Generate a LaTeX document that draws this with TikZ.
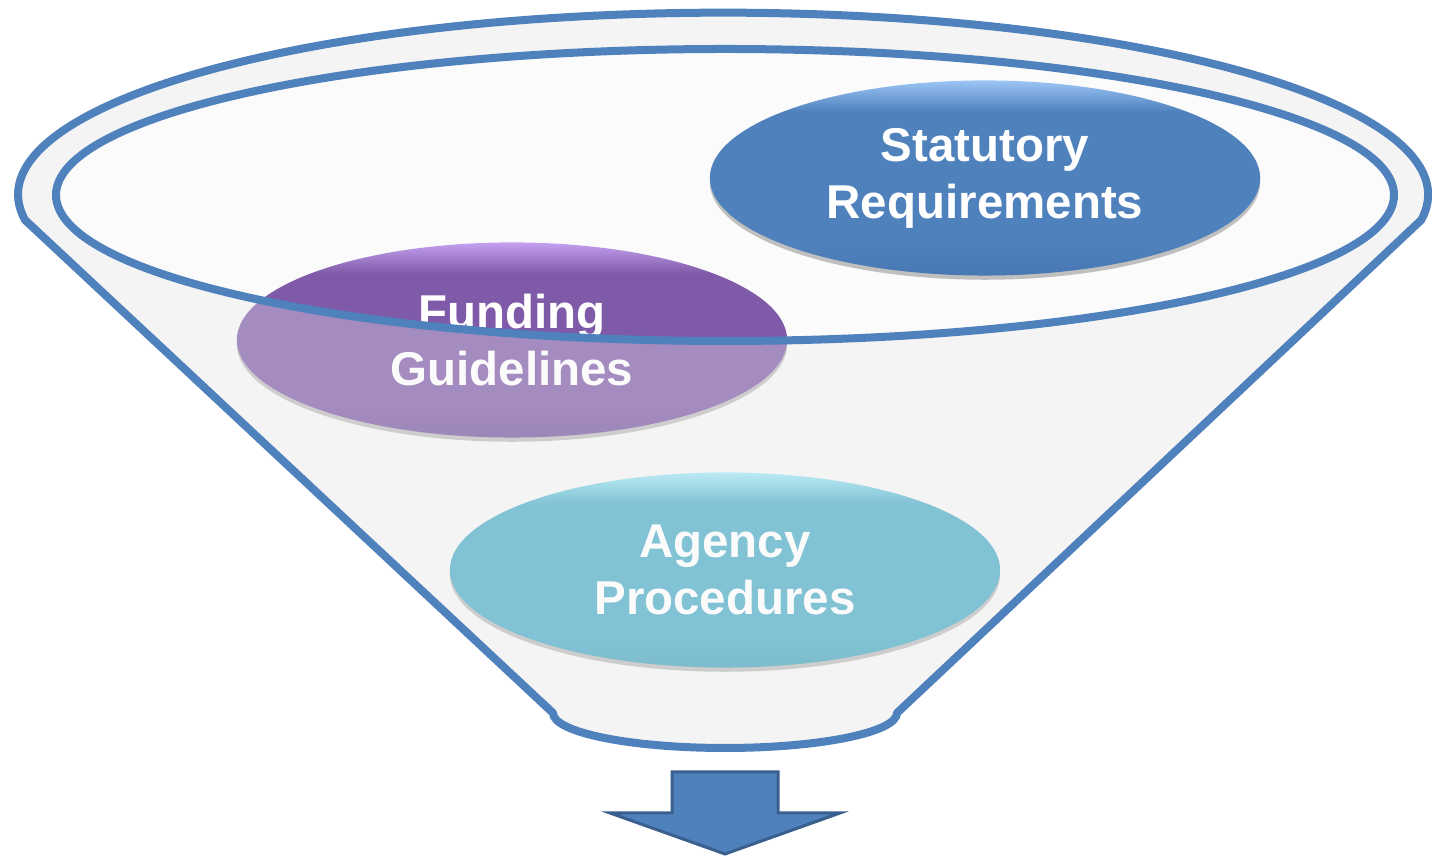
\documentclass[tikz,border=0pt]{standalone}
\usepackage{fontspec}
\setmainfont{Liberation Sans}
\usetikzlibrary{shapes.geometric,shadows}
\definecolor{rimblue}{HTML}{4F81BD}
\definecolor{arrowedge}{HTML}{3A5F8E}
\definecolor{bodygray}{HTML}{F4F4F4}
\definecolor{statbase}{HTML}{4F81BD}
\definecolor{stattop}{HTML}{9CC5F5}
\definecolor{statlow}{HTML}{4878B3}
\definecolor{fundbase}{HTML}{7F5AA8}
\definecolor{fundtop}{HTML}{C4A0F0}
\definecolor{fundlow}{HTML}{74539C}
\definecolor{agbase}{HTML}{4BACC6}
\definecolor{agtop}{HTML}{A0E6F5}
\definecolor{aglow}{HTML}{46A2BA}
\pgfdeclareverticalshading{statshade}{100bp}{color(0bp)=(statlow); color(25bp)=(statlow); color(33bp)=(statbase);
  color(67bp)=(statbase); color(75bp)=(stattop); color(100bp)=(stattop)}
\pgfdeclareverticalshading{fundshade}{100bp}{color(0bp)=(fundlow); color(25bp)=(fundlow); color(33bp)=(fundbase);
  color(67bp)=(fundbase); color(75bp)=(fundtop); color(100bp)=(fundtop)}
\pgfdeclareverticalshading{agshade}{100bp}{color(0bp)=(aglow); color(25bp)=(aglow); color(33bp)=(agbase);
  color(67bp)=(agbase); color(75bp)=(agtop); color(100bp)=(agtop)}
\begin{document}
\begin{tikzpicture}[x=0.01cm,y=0.01cm,
  oval_node/.style={ellipse,minimum width=5.5cm,minimum height=1.95cm,inner sep=0pt,align=center,text=white,
    font=\fontsize{13.5}{16.2}\selectfont\bfseries,
    drop shadow={shadow xshift=0pt,shadow yshift=-1.2pt,opacity=.4,fill=black!60}},
  rim/.style={draw=rimblue,line width=0.08cm}]

  \useasboundingbox (0,0) rectangle (1432,858);
  \fill[white] (0,0) rectangle (1432,858);

  \fill[bodygray] (25,638) arc[start angle=188,end angle=-8,x radius=705,y radius=182] -- (897,145)
    arc[start angle=0,end angle=-180,x radius=172,y radius=35] -- cycle;
  \fill[white!60!bodygray] (725,663) ellipse[x radius=669,y radius=146];

  \node[oval_node,shading=statshade] (statutory) at (985,680) {Statutory\\Requirements};
  \node[oval_node,shading=fundshade] (funding) at (512,518) {Funding\\Guidelines};
  \node[oval_node,shading=agshade] (agency) at (725,288) {Agency\\Procedures};

  \fill[bodygray,fill opacity=.32,even odd rule] (25,638) arc[start angle=188,end angle=-8,x radius=705,y radius=182] -- (897,145)
    arc[start angle=0,end angle=-180,x radius=172,y radius=35] -- cycle
    (725,663) ellipse[x radius=669,y radius=146];

  \draw[rim,line join=round] (25,638) arc[start angle=188,end angle=-8,x radius=705,y radius=182] -- (897,145)
    arc[start angle=0,end angle=-180,x radius=172,y radius=35] -- cycle;
  \draw[rim] (725,663) ellipse[x radius=669,y radius=146];

  \draw[fill=rimblue,draw=arrowedge,line width=0.03cm] (672,86) -- (778,86) -- (778,45) -- (840,45) -- (725,4)
    -- (610,45) -- (672,45) -- cycle;

\end{tikzpicture}
\end{document}
